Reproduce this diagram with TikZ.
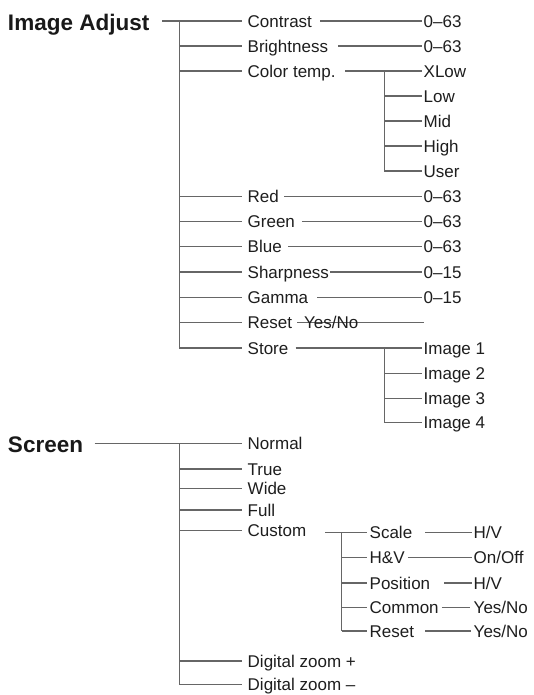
\documentclass[tikz,border=0pt]{standalone}
\usepackage{fontspec}
\setmainfont{Liberation Sans}
\definecolor{txt}{HTML}{1E1E1E}
\definecolor{lnc}{HTML}{666666}
\begin{document}
\begin{tikzpicture}[x=1pt,y=-1pt,
  lbl/.style={anchor=west,inner sep=0pt,text height=12.2pt,text depth=0pt,font=\fontsize{17}{20}\selectfont,text=txt},
  hdr/.style={anchor=west,inner sep=0pt,text height=16pt,text depth=0pt,font=\bfseries\fontsize{22.5}{26}\selectfont,text=black!90},
  ln/.style={draw=lnc,line width=1.3pt}]
\useasboundingbox[fill=white] (0,0) rectangle (534,695);

% ---------------- Image Adjust ----------------
\node[hdr] (ia) at (7.8,23) {Image Adjust};
\coordinate (iaV) at (179.3,21);

\node[lbl] (contrast) at (247.5,21)   {Contrast};
\node[lbl] (bright)   at (247.5,46)   {Brightness};
\node[lbl] (ctemp)    at (247.5,71)   {Color temp.};
\node[lbl] (red)      at (247.5,196.5){Red};
\node[lbl] (green)    at (247.5,221.7){Green};
\node[lbl] (blue)     at (247.5,246.5){Blue};
\node[lbl] (sharp)    at (247.5,272)  {Sharpness};
\node[lbl] (gamma)    at (247.5,297.5){Gamma};
\node[lbl] (reset)    at (247.5,322.5){Reset};
\node[lbl] (store)    at (247.5,348)  {Store};

\node[lbl] (vcon)   at (423.5,21)   {0–63};
\node[lbl] (vbri)   at (423.5,46)   {0–63};
\node[lbl] (xlow)   at (423.5,71)   {XLow};
\node[lbl] (low)    at (423.5,96)   {Low};
\node[lbl] (mid)    at (423.5,121)  {Mid};
\node[lbl] (high)   at (423.5,146)  {High};
\node[lbl] (user)   at (423.5,171)  {User};
\node[lbl] (vred)   at (423.5,196.5){0–63};
\node[lbl] (vgre)   at (423.5,221.7){0–63};
\node[lbl] (vblu)   at (423.5,246.5){0–63};
\node[lbl] (vsha)   at (423.5,272)  {0–15};
\node[lbl] (vgam)   at (423.5,297.5){0–15};
\coordinate (rsEnd) at (423.5,322.5);
\node[lbl] (img1)   at (423.5,348)  {Image 1};
\node[lbl] (img2)   at (423.5,373.3){Image 2};
\node[lbl] (img3)   at (423.5,398.3){Image 3};
\node[lbl] (img4)   at (423.5,422.5){Image 4};

\coordinate (ctV) at (384.2,71);
\coordinate (stV) at (384.2,348);

% header line and main vertical
\draw[ln] ([xshift=13pt,yshift=2pt]ia.east) -- ([xshift=-5.8pt]contrast.west);
\draw[ln] (iaV) -- (iaV |- store);
\foreach \n in {bright,ctemp,red,green,blue,sharp,gamma,reset,store}
  \draw[ln] (iaV |- \n) -- ([xshift=-5.8pt]\n.west);

% value connectors
\draw[ln] ([xshift=8pt]contrast.east) -- ([xshift=-2pt]vcon.west);
\draw[ln] ([xshift=10pt]bright.east) -- ([xshift=-2pt]vbri.west);
\draw[ln] ([xshift=9.5pt]ctemp.east) -- ([xshift=-2pt]xlow.west);
\draw[ln] ([xshift=5pt]red.east) -- ([xshift=-2pt]vred.west);
\draw[ln] ([xshift=6.7pt]green.east) -- ([xshift=-2pt]vgre.west);
\draw[ln] ([xshift=6.3pt]blue.east) -- ([xshift=-2pt]vblu.west);
\draw[ln] ([xshift=1pt]sharp.east) -- ([xshift=-2pt]vsha.west);
\draw[ln] ([xshift=8.7pt]gamma.east) -- ([xshift=-2pt]vgam.west);
\draw[ln] ([xshift=5pt]reset.east) -- (rsEnd);
\node[lbl] (rsyn) at (304,322.5) {Yes/No};
\draw[ln] ([xshift=7pt]store.east) -- ([xshift=-2pt]img1.west);

% color temp subtree
\draw[ln] (ctV) -- (ctV |- user);
\foreach \n in {low,mid,high,user}
  \draw[ln] (ctV |- \n) -- ([xshift=-2pt]\n.west);

% store subtree
\draw[ln] (stV) -- (stV |- img4);
\foreach \n in {img2,img3,img4}
  \draw[ln] (stV |- \n) -- ([xshift=-2pt]\n.west);

% ---------------- Screen ----------------
\node[hdr] (scr) at (7.8,444) {Screen};
\coordinate (scV) at (179.3,443.5);

\node[lbl] (normal) at (247.5,443.5) {Normal};
\node[lbl] (true)   at (247.5,469)   {True};
\node[lbl] (wide)   at (247.5,488.5) {Wide};
\node[lbl] (full)   at (247.5,510)   {Full};
\node[lbl] (custom) at (247.5,530.5) {Custom};
\node[lbl] (dzp)    at (247.5,661)   {Digital zoom +};
\node[lbl] (dzm)    at (247.5,684.5) {Digital zoom –};

\draw[ln] ([xshift=11.5pt,yshift=0.5pt]scr.east) -- ([xshift=-5.8pt]normal.west);
\draw[ln] (scV) -- (scV |- dzm);
\foreach \n in {true,wide,full,custom,dzp,dzm}
  \draw[ln] (scV |- \n) -- ([xshift=-5.8pt]\n.west);

% custom subtree
\coordinate (cuA) at (325,532.5);
\coordinate (cuV) at (341.7,532.5);
\node[lbl] (scale) at (369.5,532.5) {Scale};
\node[lbl] (hv)    at (369.5,557.5) {H\&V};
\node[lbl] (pos)   at (369.5,583)   {Position};
\node[lbl] (comm)  at (369.5,607.5) {Common};
\node[lbl] (cres)  at (369.5,631)   {Reset};

\node[lbl] (vsc)  at (473.5,532.5) {H/V};
\node[lbl] (vhv)  at (473.5,557.5) {On/Off};
\node[lbl] (vpos) at (473.5,583)   {H/V};
\node[lbl] (vcom) at (473.5,607.5) {Yes/No};
\node[lbl] (vres) at (473.5,631)   {Yes/No};

\draw[ln] (cuA) -- ([xshift=-3pt]scale.west);
\draw[ln] (cuV) -- (cuV |- cres);
\foreach \n in {hv,pos,comm,cres}
  \draw[ln] (cuV |- \n) -- ([xshift=-3pt]\n.west);

\draw[ln] ([xshift=13pt]scale.east) -- ([xshift=-2pt]vsc.west);
\draw[ln] ([xshift=3pt]hv.east) -- ([xshift=-2pt]vhv.west);
\draw[ln] ([xshift=14pt]pos.east) -- ([xshift=-2pt]vpos.west);
\draw[ln] ([xshift=3pt]comm.east) -- ([xshift=-4pt]vcom.west);
\draw[ln] ([xshift=11pt]cres.east) -- ([xshift=-3pt]vres.west);
\end{tikzpicture}
\end{document}
